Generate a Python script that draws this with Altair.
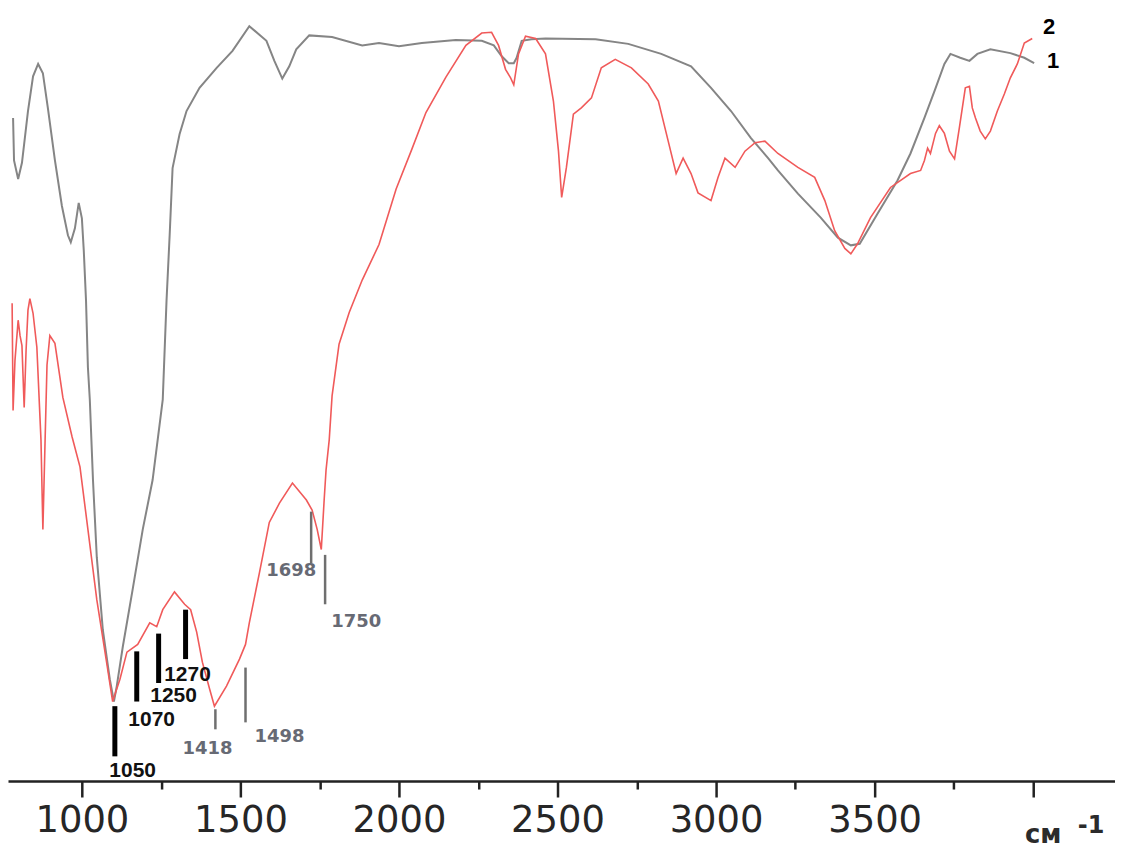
import altair as alt
import pandas as pd

# ---- spectrum 1 (grey) : wavenumber (cm-1) / transmittance (%) ----
gray_wn = [783, 786, 799, 811, 830, 846, 862, 877, 893, 915,
           937, 956, 965, 978, 990, 1000, 1006, 1013, 1019, 1025,
           1035, 1047, 1066, 1088, 1101, 1110, 1129, 1160, 1192, 1223,
           1255, 1267, 1277, 1286, 1308, 1330, 1371, 1425, 1475, 1528,
           1582, 1607, 1632, 1654, 1676, 1717, 1789, 1884, 1937, 2000,
           2072, 2179, 2261, 2299, 2324, 2346, 2362, 2371, 2387, 2418,
           2462, 2620, 2723, 2827, 2921, 2984, 3047, 3110, 3164, 3195,
           3258, 3330, 3384, 3425, 3453, 3509, 3572, 3613, 3657, 3689,
           3720, 3739, 3770, 3799, 3824, 3865, 3928, 3972, 4003]
gray_t = [85.9, 80.4, 78.0, 80.1, 86.8, 91.3, 92.9, 91.7, 87.1, 80.4,
          74.5, 70.7, 69.8, 71.6, 74.9, 72.9, 68.7, 62.3, 53.6, 49.4,
          39.0, 29.0, 19.6, 13.2, 10.3, 12.3, 17.4, 24.8, 32.6, 39.0,
          49.4, 62.3, 70.9, 79.4, 83.8, 86.8, 89.8, 92.4, 94.6, 97.8,
          95.9, 93.3, 91.0, 92.6, 94.8, 96.6, 96.4, 95.3, 95.6, 95.2,
          95.6, 96.0, 95.9, 95.3, 93.9, 93.0, 93.0, 93.7, 95.9, 96.1,
          96.2, 96.1, 95.5, 94.2, 92.6, 89.8, 86.8, 83.3, 80.7, 79.1,
          76.1, 73.0, 70.4, 69.4, 69.6, 73.5, 77.8, 81.3, 85.9, 89.4,
          92.9, 94.2, 93.7, 93.3, 94.2, 94.8, 94.3, 93.7, 93.0]

# ---- spectrum 2 (red) ----
red_wn = [780, 783, 789, 799, 805, 811, 818, 824, 830, 836,
          846, 858, 871, 877, 884, 890, 899, 915, 940, 969,
          994, 1019, 1047, 1079, 1097, 1120, 1142, 1176, 1214, 1236,
          1255, 1292, 1324, 1343, 1362, 1380, 1403, 1418, 1456, 1497,
          1516, 1528, 1560, 1591, 1623, 1664, 1708, 1726, 1742, 1755,
          1764, 1770, 1780, 1789, 1811, 1843, 1884, 1937, 1991, 2041,
          2085, 2148, 2211, 2261, 2292, 2314, 2336, 2352, 2362, 2377,
          2399, 2431, 2462, 2487, 2503, 2513, 2528, 2550, 2575, 2607,
          2638, 2682, 2733, 2786, 2818, 2849, 2874, 2896, 2921, 2943,
          2984, 3006, 3028, 3060, 3091, 3123, 3154, 3195, 3258, 3311,
          3343, 3374, 3406, 3425, 3446, 3487, 3550, 3613, 3645, 3657,
          3667, 3676, 3692, 3704, 3720, 3736, 3752, 3767, 3786, 3799,
          3808, 3818, 3833, 3849, 3865, 3887, 3909, 3928, 3950, 3972, 3997]
red_t = [61.9, 48.0, 54.5, 59.7, 57.7, 56.4, 48.4, 55.8, 61.0, 62.5,
         60.6, 56.2, 44.2, 32.6, 44.2, 53.9, 57.7, 56.7, 49.7, 44.6,
         40.7, 32.6, 23.5, 15.1, 10.3, 13.2, 16.7, 17.7, 20.5, 20.0,
         22.2, 24.5, 22.9, 22.2, 19.3, 15.4, 11.9, 9.7, 12.3, 15.8,
         17.7, 20.5, 27.0, 33.5, 36.0, 38.6, 36.4, 35.1, 32.6, 30.0,
         36.4, 40.3, 44.2, 49.9, 56.6, 60.7, 64.9, 69.5, 76.7, 81.9,
         86.6, 91.2, 95.3, 96.9, 97.0, 95.3, 92.2, 91.1, 90.2, 94.2,
         96.5, 96.2, 94.2, 88.1, 81.6, 75.6, 79.5, 86.4, 87.2, 88.5,
         92.4, 93.5, 92.4, 90.3, 88.1, 82.9, 78.7, 80.7, 78.7, 76.2,
         75.2, 78.2, 80.7, 79.5, 81.6, 82.7, 82.9, 81.3, 79.5, 78.2,
         75.2, 71.3, 69.0, 68.3, 69.6, 73.0, 76.9, 78.7, 79.1, 80.4,
         82.0, 81.3, 83.9, 84.9, 83.9, 81.6, 80.6, 84.6, 89.8, 90.0,
         87.2, 85.9, 84.2, 83.2, 84.2, 86.8, 89.0, 91.1, 92.9, 95.6, 96.2]

# ---- band markers ----
black_bar_wn = [1104, 1173, 1242, 1327]
black_bar_top = [9.7, 16.8, 19.1, 22.2]
black_bar_bot = [3.2, 10.3, 12.7, 15.8]
black_lbl = ["1050", "1070", "1250", "1270"]
black_lbl_wn = [1160, 1220, 1289, 1333]
black_lbl_t = [0.5, 7.1, 10.2, 12.9]

gray_bar_wn = [1421, 1516, 1723, 1767]
gray_bar_top = [9.3, 14.7, 34.9, 29.3]
gray_bar_bot = [6.7, 7.6, 28.2, 22.9]
gray_lbl = ["1418", "1498", "1698", "1750"]
gray_lbl_wn = [1396, 1623, 1660, 1865]
gray_lbl_t = [3.5, 5.0, 26.5, 19.9]

curve_lbl = ["2", "1"]
curve_lbl_wn = [4050, 4063]
curve_lbl_t = [96.8, 92.4]

tick_values = [1000, 1250, 1500, 1750, 2000, 2250, 2500, 2750, 3000, 3250, 3500, 3750, 4000]
x_domain = [767, 4258]

W, H = 1110, 774

df_gray = pd.DataFrame({"wn": gray_wn, "t": gray_t})
df_red = pd.DataFrame({"wn": red_wn, "t": red_t})
df_bb = pd.DataFrame({"wn": black_bar_wn, "t1": black_bar_top, "t2": black_bar_bot})
df_bl = pd.DataFrame({"wn": black_lbl_wn, "t": black_lbl_t, "txt": black_lbl})
df_gb = pd.DataFrame({"wn": gray_bar_wn, "t1": gray_bar_top, "t2": gray_bar_bot})
df_gl = pd.DataFrame({"wn": gray_lbl_wn, "t": gray_lbl_t, "txt": gray_lbl})
df_cl = pd.DataFrame({"wn": curve_lbl_wn, "t": curve_lbl_t, "txt": curve_lbl})

xscale = alt.Scale(domain=x_domain, nice=False, zero=False)
yscale = alt.Scale(domain=[0, 100], nice=False, zero=False)

x_axis = alt.Axis(
    values=tick_values,
    format="d",
    labelExpr="datum.value % 500 == 0 && datum.value < 4000 ? datum.label : ''",
    tickSize={"condition": {"test": "datum.value % 500 == 0", "value": 16}, "value": 8},
    tickWidth=2.5,
    tickColor="#222222",
    domainColor="#222222",
    domainWidth=2.5,
    labelFont="DejaVu Sans",
    labelFontSize=37,
    labelColor="#262626",
    labelPadding=6,
    grid=False,
    title=None,
)

X = alt.X("wn:Q", scale=xscale, axis=x_axis)
Y = alt.Y("t:Q", scale=yscale, axis=None)

gray_line = alt.Chart(df_gray).mark_line(color="#858585", strokeWidth=2).encode(x=X, y=Y)
red_line = alt.Chart(df_red).mark_line(color="#f05a5a", strokeWidth=1.6).encode(
    x=alt.X("wn:Q", scale=xscale), y=alt.Y("t:Q", scale=yscale))

black_bars = alt.Chart(df_bb).mark_rule(color="#000000", strokeWidth=5).encode(
    x=alt.X("wn:Q", scale=xscale), y=alt.Y("t1:Q", scale=yscale), y2="t2:Q")
gray_bars = alt.Chart(df_gb).mark_rule(color="#6f6f6f", strokeWidth=2.5).encode(
    x=alt.X("wn:Q", scale=xscale), y=alt.Y("t1:Q", scale=yscale), y2="t2:Q")

black_text = alt.Chart(df_bl).mark_text(
    font="Liberation Sans", fontSize=21, fontWeight="bold", color="#111111",
    align="center", baseline="alphabetic").encode(
    x=alt.X("wn:Q", scale=xscale), y=alt.Y("t:Q", scale=yscale), text="txt:N")
gray_text = alt.Chart(df_gl).mark_text(
    font="DejaVu Sans", fontSize=18, fontWeight="bold", color="#676a74",
    align="center", baseline="alphabetic").encode(
    x=alt.X("wn:Q", scale=xscale), y=alt.Y("t:Q", scale=yscale), text="txt:N")
curve_text = alt.Chart(df_cl).mark_text(
    font="Liberation Sans", fontSize=22, fontWeight="bold", color="#000000",
    align="center", baseline="alphabetic").encode(
    x=alt.X("wn:Q", scale=xscale), y=alt.Y("t:Q", scale=yscale), text="txt:N")

unit_main = alt.Chart(pd.DataFrame({"txt": ["см"]})).mark_text(
    font="DejaVu Sans", fontSize=26, fontWeight="bold", color="#2b2b2b",
    align="center", baseline="alphabetic").encode(
    x=alt.value(1038), y=alt.value(836), text="txt:N")
unit_sup = alt.Chart(pd.DataFrame({"txt": ["-1"]})).mark_text(
    font="DejaVu Sans", fontSize=24, fontWeight="bold", color="#2b2b2b",
    align="center", baseline="alphabetic").encode(
    x=alt.value(1086), y=alt.value(826), text="txt:N")

chart = alt.layer(
    gray_line, red_line, black_bars, gray_bars, black_text, gray_text, curve_text,
    unit_main, unit_sup
).properties(width=W, height=H, padding=0, background="white").configure_view(stroke=None)

chart.save("out.html", embed_options={"renderer": "svg", "actions": False})
